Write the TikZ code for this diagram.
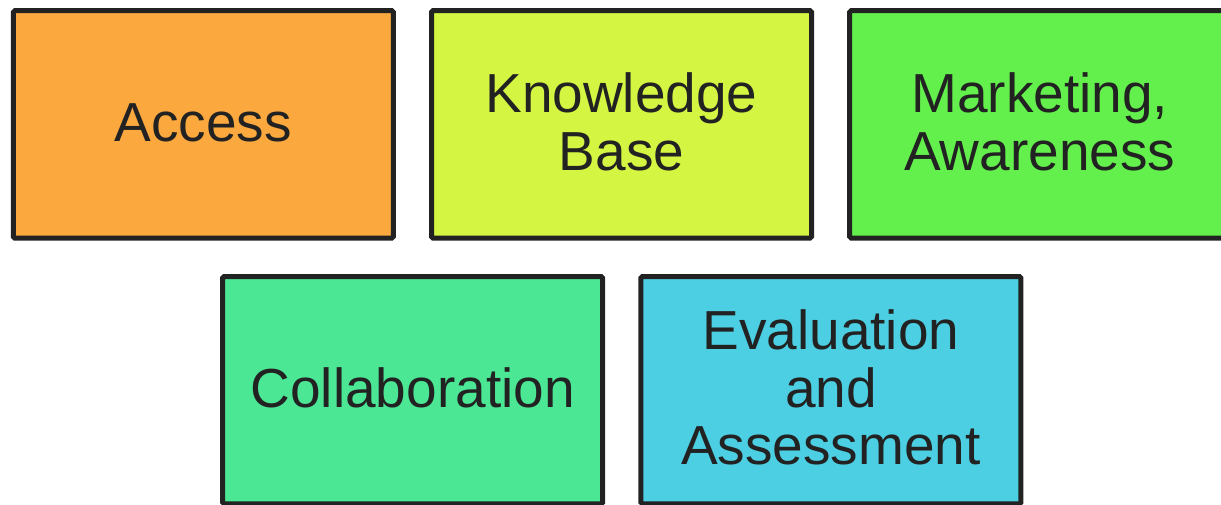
\documentclass[tikz,border=0pt]{standalone}
\usepackage{fontspec}
\setmainfont{Liberation Sans}
\definecolor{bordc}{HTML}{222222}
\definecolor{textc}{HTML}{222222}
\definecolor{accessc}{HTML}{FBA83F}
\definecolor{knowc}{HTML}{D4F542}
\definecolor{markc}{HTML}{63F04C}
\definecolor{collc}{HTML}{4BE795}
\definecolor{evalc}{HTML}{4CCFE2}
\newcommand\boxfont{\fontsize{55pt}{57.5pt}\selectfont}
\tikzset{
  box/.style={draw=bordc, line width=5pt, rounded corners=1.5pt,
    minimum width=380pt, minimum height=227.3pt, inner sep=0pt,
    align=center, font=\boxfont, text=textc, text depth=5pt},
  oneline/.style={text height=39pt},
  twoline/.style={text height=96.5pt},
  threeline/.style={text height=154pt}
}
\begin{document}
\begin{tikzpicture}[x=1pt,y=1pt]
\useasboundingbox (0,0) rectangle (1221,504);
\clip (0,0) rectangle (1221,504);
\node[box, oneline, fill=accessc] (access) at (203.3,379.6) {Access};
\node[box, twoline, fill=knowc] (know) at (621.5,379.6) {Knowledge\\Base};
\node[box, twoline, fill=markc] (mark) at (1039.7,379.6) {Marketing,\\Awareness};
\node[box, oneline, fill=collc] (coll) at (412.7,113.8) {Collaboration};
\node[box, threeline, fill=evalc] (eval) at (830.9,113.8) {Evaluation\\and\\Assessment};
\end{tikzpicture}
\end{document}
